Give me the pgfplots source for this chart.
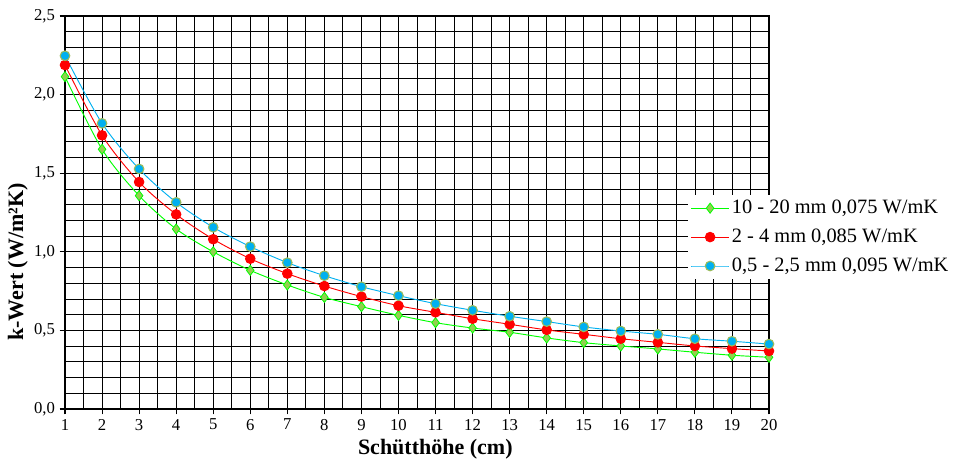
\documentclass[border=0pt]{standalone}
\usepackage{pgfplots}
\pgfplotsset{compat=1.18}
\usepackage{fontspec}
\setmainfont{Liberation Serif}
\definecolor{lgreen}{HTML}{00FF00}
\definecolor{dgreen}{HTML}{92D050}
\definecolor{lblue}{HTML}{00B0F0}
\definecolor{olive}{HTML}{9BBB59}
\begin{document}
\begin{tikzpicture}
\begin{axis}[
  scale only axis,
  width=528pt, height=294.75pt,
  xmin=1, xmax=20, ymin=0, ymax=2.5,
  xtick={1,...,20},
  ytick={0,0.5,1,1.5,2,2.5},
  minor x tick num=1,
  minor y tick num=4,
  grid=both,
  major grid style={black, line width=0.6pt},
  minor grid style={black, line width=0.6pt},
  axis line style={black, line width=1.5pt},
  tick pos=left,
  tick align=outside,
  major tick length=4pt,
  minor tick length=0pt,
  tick style={black, line width=0.8pt},
  /pgf/number format/assume math mode=true,
  yticklabel style={/pgf/number format/.cd, fixed, fixed zerofill, precision=1, use comma},
  ticklabel style={font=\fontsize{12.5}{14}\selectfont},
  xlabel={\textbf{Schütthöhe (cm)}},
  ylabel={\textbf{k-Wert (W/m²K)}},
  xlabel style={font=\fontsize{16.5}{18}\selectfont, at={(axis description cs:0.526,-0.102)}, anchor=center},
  ylabel style={font=\fontsize{16.5}{18}\selectfont, at={(axis description cs:-0.067,0.374)}, anchor=center, rotate=0},
  legend style={at={(axis description cs:0.885,0.545)}, anchor=north west, draw=none, fill=white,
    font=\fontsize{15.3}{17.5}\selectfont, row sep=6pt, inner sep=2pt},
  legend image code/.code={
    \draw[mark repeat=2,mark phase=2] plot coordinates {(0pt,0pt) (14pt,0pt) (28pt,0pt)};
  },
  legend cell align=left,
  clip=false,
]
\addplot[lgreen, line width=0.7pt, smooth, mark=diamond*, mark size=3.8pt,
  mark options={fill=dgreen, draw=lgreen, line width=0.6pt}] coordinates {
(1,2.114) (2,1.652) (3,1.357) (4,1.145) (5,1.000) (6,0.882) (7,0.789) (8,0.710) (9,0.651) (10,0.596)
(11,0.549) (12,0.515) (13,0.488) (14,0.452) (15,0.422) (16,0.401) (17,0.382) (18,0.361) (19,0.342) (20,0.329)};
\addlegendentry{10 - 20 mm 0,075 W/mK}
\addplot[red, line width=0.7pt, smooth, mark=*, mark size=3.6pt,
  mark options={fill=red, draw=red}] coordinates {
(1,2.188) (2,1.741) (3,1.444) (4,1.238) (5,1.080) (6,0.956) (7,0.861) (8,0.782) (9,0.715) (10,0.657)
(11,0.615) (12,0.574) (13,0.539) (14,0.503) (15,0.475) (16,0.447) (17,0.424) (18,0.401) (19,0.384) (20,0.369)};
\addlegendentry{2 - 4 mm 0,085 W/mK}
\addplot[lblue, line width=0.7pt, smooth, mark=*, mark size=3.6pt,
  mark options={fill=lblue, draw=olive, line width=0.8pt}] coordinates {
(1,2.247) (2,1.817) (3,1.527) (4,1.315) (5,1.156) (6,1.033) (7,0.931) (8,0.848) (9,0.778) (10,0.721)
(11,0.670) (12,0.628) (13,0.590) (14,0.556) (15,0.522) (16,0.496) (17,0.475) (18,0.447) (19,0.431) (20,0.413)};
\addlegendentry{0,5 - 2,5 mm 0,095 W/mK}
\end{axis}
\pgfresetboundingbox
\useasboundingbox (-48.75pt,-37.5pt) rectangle (669pt,306.75pt);
\end{tikzpicture}
\end{document}
